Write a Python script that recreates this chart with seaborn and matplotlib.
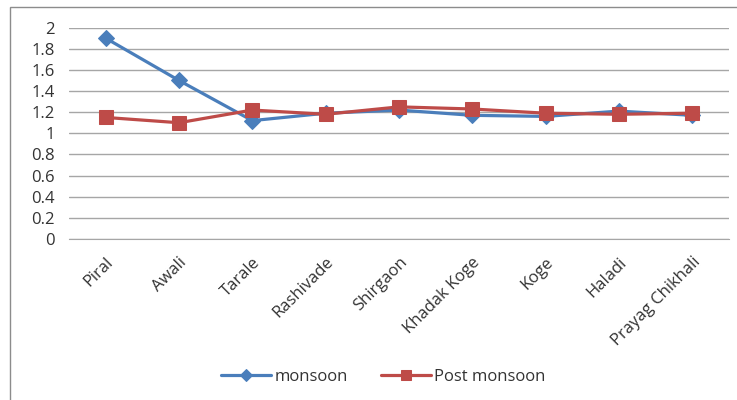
import matplotlib
matplotlib.use("Agg")
import matplotlib.pyplot as plt
import matplotlib.patches as mpatches
import seaborn as sns
import pandas as pd

villages = ["Piral", "Awali", "Tarale", "Rashivade", "Shirgaon",
            "Khadak Koge", "Koge", "Haladi", "Prayag Chikhali"]
monsoon = [1.90, 1.50, 1.12, 1.19, 1.22, 1.17, 1.16, 1.21, 1.17]
post_monsoon = [1.15, 1.10, 1.22, 1.18, 1.25, 1.23, 1.19, 1.18, 1.19]
y_ticks = [0, 0.2, 0.4, 0.6, 0.8, 1, 1.2, 1.4, 1.6, 1.8, 2]
y_tick_labels = ["0", "0.2", "0.4", "0.6", "0.8", "1", "1.2", "1.4", "1.6", "1.8", "2"]

sns.set_style("white")
plt.rcParams["font.family"] = ["Open Sans", "DejaVu Sans"]

fig = plt.figure(figsize=(7.37, 4.0), dpi=100)
ax = fig.add_axes([0.0936, 0.4025, 0.8954, 0.5285])

# chart frame
fig.patches.append(mpatches.Rectangle((10 / 737, -0.1), 1.2, 1 - 7 / 400 + 0.1,
                                      transform=fig.transFigure, fill=False,
                                      edgecolor="#8c8c8c", linewidth=1.0))

df_m = pd.DataFrame({"village": villages, "value": monsoon})
df_p = pd.DataFrame({"village": villages, "value": post_monsoon})

blue = "#4A7EBB"
red = "#BE4B48"
sns.lineplot(data=df_m, x="village", y="value", ax=ax, color=blue, linewidth=2.3,
             marker="D", markersize=8, markeredgecolor=blue, label="monsoon", sort=False)
sns.lineplot(data=df_p, x="village", y="value", ax=ax, color=red, linewidth=2.3,
             marker="s", markersize=10, markeredgecolor=red, label="Post monsoon", sort=False)

fs = 12
ax.set_xlim(-0.5, len(villages) - 0.5)
ax.set_ylim(0, 2)
ax.set_yticks(y_ticks)
ax.set_yticklabels(y_tick_labels, fontsize=fs, color="#333333")
ax.set_xlabel("")
ax.set_ylabel("")
ax.yaxis.grid(True, color="#a6a6a6", linewidth=1.0)
ax.set_axisbelow(True)
for s in ["left", "right", "top"]:
    ax.spines[s].set_visible(False)
ax.spines["bottom"].set_color("#a6a6a6")
ax.tick_params(axis="y", length=0, pad=10)
ax.tick_params(axis="x", length=0, pad=11)
for lbl in ax.get_xticklabels():
    lbl.set_rotation(45)
    lbl.set_ha("right")
    lbl.set_va("top")
    lbl.set_rotation_mode("anchor")
    lbl.set_fontsize(fs)
    lbl.set_color("#333333")

ax.legend(loc="center", bbox_to_anchor=(0.52, 0.0575), bbox_transform=fig.transFigure,
          ncol=2, frameon=False, fontsize=fs, handlelength=3.0, columnspacing=2.0,
          handletextpad=0.2, labelcolor="#333333", markerscale=0.75)

fig.savefig("out.png", dpi=100)
